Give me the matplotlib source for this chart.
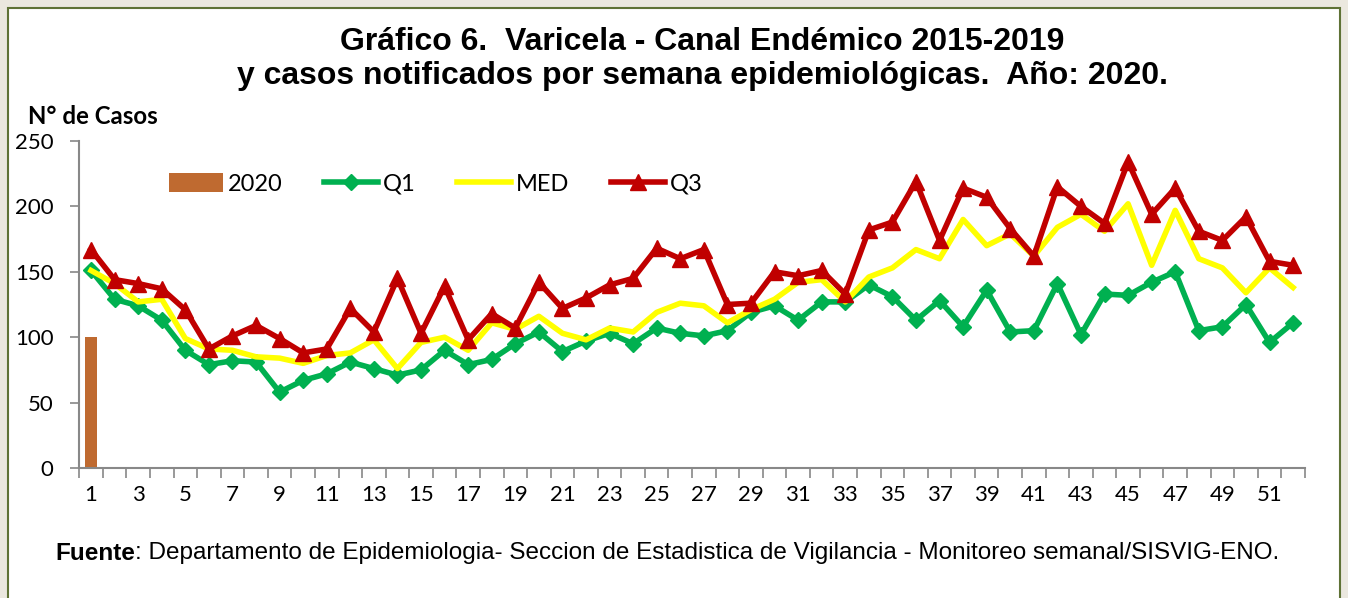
import numpy as np
import matplotlib.pyplot as plt
from matplotlib.patches import Rectangle

# Datos (semanas epidemiológicas 1-52)
semanas = np.arange(1, 53)
casos_2020 = [100]
q1 = [151, 129, 124, 113, 90, 79, 82, 81, 58, 67, 72, 81, 76, 71, 75, 90,
      79, 83, 95, 104, 89, 97, 103, 95, 107, 103, 101, 105, 119, 124, 113, 127,
      127, 140, 131, 113, 128, 108, 136, 104, 105, 141, 102, 133, 132, 142, 150, 105,
      108, 125, 96, 111]
med = [151, 141, 127, 129, 99, 91, 90, 85, 84, 80, 86, 88, 98, 76, 96, 100,
       90, 111, 106, 116, 103, 98, 107, 104, 119, 126, 124, 111, 121, 129, 142, 144,
       127, 146, 153, 167, 160, 190, 170, 179, 162, 184, 194, 181, 202, 155, 197, 160,
       153, 134, 153, 138]
q3 = [167, 144, 141, 137, 121, 91, 101, 109, 99, 88, 91, 122, 104, 145, 103, 139,
      98, 118, 107, 142, 122, 130, 140, 145, 168, 160, 167, 125, 126, 150, 147, 151,
      133, 182, 188, 219, 174, 214, 207, 183, 162, 215, 200, 187, 234, 194, 214, 181,
      174, 192, 158, 155]

fig = plt.figure(figsize=(13.48, 5.98), dpi=100)
fig.patch.set_facecolor('#ebe8df')
marco = Rectangle((8 / 1348, -0.01), 1332 / 1348, 1 - 8 / 598 + 0.01,
                  transform=fig.transFigure, facecolor='white',
                  edgecolor='#5f7236', linewidth=1.5, zorder=-10)
fig.patches.append(marco)

ax = fig.add_axes([0.0588, 0.2174, 0.9092, 0.5468])
ax.set_facecolor('none')

barra = ax.bar(semanas[:len(casos_2020)], casos_2020, width=0.5, color='#bf6a30', label='2020', zorder=2)
l1, = ax.plot(semanas, q1, color='#00b050', lw=4, marker='D', ms=8, label='Q1', zorder=3)
l2, = ax.plot(semanas, med, color='#ffff00', lw=4, label='MED', zorder=3)
l3, = ax.plot(semanas, q3, color='#c00000', lw=4, marker='^', ms=12, label='Q3', zorder=4)

ax.set_xlim(0.5, 52.5)
ax.set_ylim(0, 250)
ax.set_yticks(np.arange(0, 251, 50))
ax.set_xticks(semanas[::2])
ax.set_xticks(np.arange(0.5, 53, 1), minor=True)
ax.tick_params(axis='x', which='major', length=0, pad=12)
ax.tick_params(axis='x', which='minor', length=7, color='#888888', width=1.2)
ax.tick_params(axis='y', length=6.5, color='#888888', width=1.2, pad=12)
for lab in ax.get_xticklabels() + ax.get_yticklabels():
    lab.set_fontfamily('Lato')
    lab.set_fontsize(16)

for s in ['top', 'right']:
    ax.spines[s].set_visible(False)
for s in ['left', 'bottom']:
    ax.spines[s].set_color('#888888')
    ax.spines[s].set_linewidth(1.5)

ax.legend(handles=[barra, l1, l2, l3], loc='center left', bbox_to_anchor=(0.0655, 0.868),
          ncol=4, frameon=False, prop={'family': 'Lato', 'size': 17}, handlelength=2.3,
          handleheight=0.85, columnspacing=1.75, handletextpad=0.2, borderaxespad=0)

fig.text(0.521, 0.93, 'Gráfico 6.  Varicela - Canal Endémico 2015-2019',
         ha='center', va='center', fontsize=23, fontweight='bold', family='Liberation Sans')
fig.text(0.521, 0.873, 'y casos notificados por semana epidemiológicas.  Año: 2020.',
         ha='center', va='center', fontsize=23, fontweight='bold', family='Liberation Sans')
fig.text(28 / 1348, 1 - 117 / 598, 'N° de Casos', ha='left', va='center',
         fontsize=17.3, fontweight='bold', family='Lato')

t = fig.text(55 / 1348, 1 - 553 / 598, 'Fuente', ha='left', va='center',
             fontsize=17.5, fontweight='bold', family='Liberation Sans')
ax.annotate(': Departamento de Epidemiologia- Seccion de Estadistica de Vigilancia - Monitoreo semanal/SISVIG-ENO.',
            xy=(1, 0), xycoords=t, ha='left', va='bottom',
            fontsize=17.5, family='Liberation Sans', annotation_clip=False)

fig.savefig('out.png', dpi=100, facecolor=fig.get_facecolor())
